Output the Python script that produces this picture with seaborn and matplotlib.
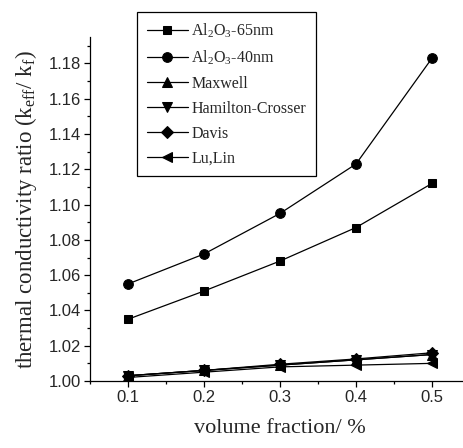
import numpy as np
import pandas as pd
import matplotlib
matplotlib.use('Agg')
import matplotlib.pyplot as plt
from matplotlib.ticker import MultipleLocator
import seaborn as sns

# data
volume_fraction = [0.1, 0.2, 0.3, 0.4, 0.5]
al2o3_65nm = [1.035, 1.051, 1.068, 1.087, 1.112]
al2o3_40nm = [1.055, 1.072, 1.095, 1.123, 1.183]
maxwell = [1.003, 1.006, 1.009, 1.012, 1.015]
hamilton_crosser = [1.003, 1.006, 1.009, 1.012, 1.015]
davis = [1.003, 1.006, 1.0095, 1.0125, 1.016]
lu_lin = [1.002, 1.005, 1.008, 1.009, 1.010]

x_ticklabels = ['0.1', '0.2', '0.3', '0.4', '0.5']
y_ticks = [1.00, 1.02, 1.04, 1.06, 1.08, 1.10, 1.12, 1.14, 1.16, 1.18]

series = [
    (r'Al$_2$O$_3$-65nm', al2o3_65nm, 's', 6),
    (r'Al$_2$O$_3$-40nm', al2o3_40nm, 'o', 7),
    ('Maxwell', maxwell, '^', 7),
    ('Hamilton-Crosser', hamilton_crosser, 'v', 7),
    ('Davis', davis, 'D', 6),
    ('Lu,Lin', lu_lin, '<', 7),
]

sns.set_style('ticks')
plt.rcParams['font.family'] = ['Liberation Serif', 'DejaVu Serif']
plt.rcParams['mathtext.fontset'] = 'custom'
plt.rcParams['mathtext.rm'] = 'Liberation Serif'
plt.rcParams['mathtext.it'] = 'Liberation Serif:italic'

fig = plt.figure(figsize=(4.64, 4.48), dpi=100)
ax = fig.add_axes([90 / 464, 1 - 381 / 448, 380 / 464, 344 / 448])

for name, vals, mk, ms in series:
    sns.lineplot(x=volume_fraction, y=vals, ax=ax, color='black', lw=0.9,
                 marker=mk, markersize=ms, markeredgecolor='black',
                 markerfacecolor='black', label=name)

ax.set_xlim(0.05, 0.55)
ax.set_ylim(1.0, 1.195)
ax.xaxis.set_minor_locator(MultipleLocator(0.05))
ax.yaxis.set_minor_locator(MultipleLocator(0.01))
ax.set_xticks(volume_fraction)
ax.set_xticklabels(x_ticklabels, fontfamily='Liberation Sans', fontsize=12)
ax.set_yticks(y_ticks)
ax.set_yticklabels([f'{v:.2f}' for v in y_ticks], fontfamily='Liberation Sans', fontsize=12)

ax.tick_params(which='major', direction='out', length=4.5, width=0.9, pad=2, color='black')
ax.tick_params(which='minor', direction='out', length=2.5, width=0.9, color='black')
sns.despine(ax=ax)
for sp in ['left', 'bottom']:
    ax.spines[sp].set_linewidth(0.9)
    ax.spines[sp].set_color('black')

ax.set_xlabel('volume fraction/ %', fontsize=16, labelpad=10)
ax.set_ylabel(r'thermal conductivity ratio (k$_{\mathrm{eff}}$/ k$_{\mathrm{f}}$)',
              fontsize=16.5, labelpad=7)

leg = ax.legend(loc='upper left', bbox_to_anchor=(137 / 464, 1 - 12 / 448),
                bbox_transform=fig.transFigure, borderaxespad=0,
                fontsize=11.5, frameon=True, fancybox=False, shadow=False,
                handlelength=2.6, handletextpad=0.2, labelspacing=0.55,
                borderpad=0.6)
leg.get_frame().set_edgecolor('black')
leg.get_frame().set_linewidth(0.9)
leg.get_frame().set_alpha(1)

fig.savefig('out.png', dpi=100)
